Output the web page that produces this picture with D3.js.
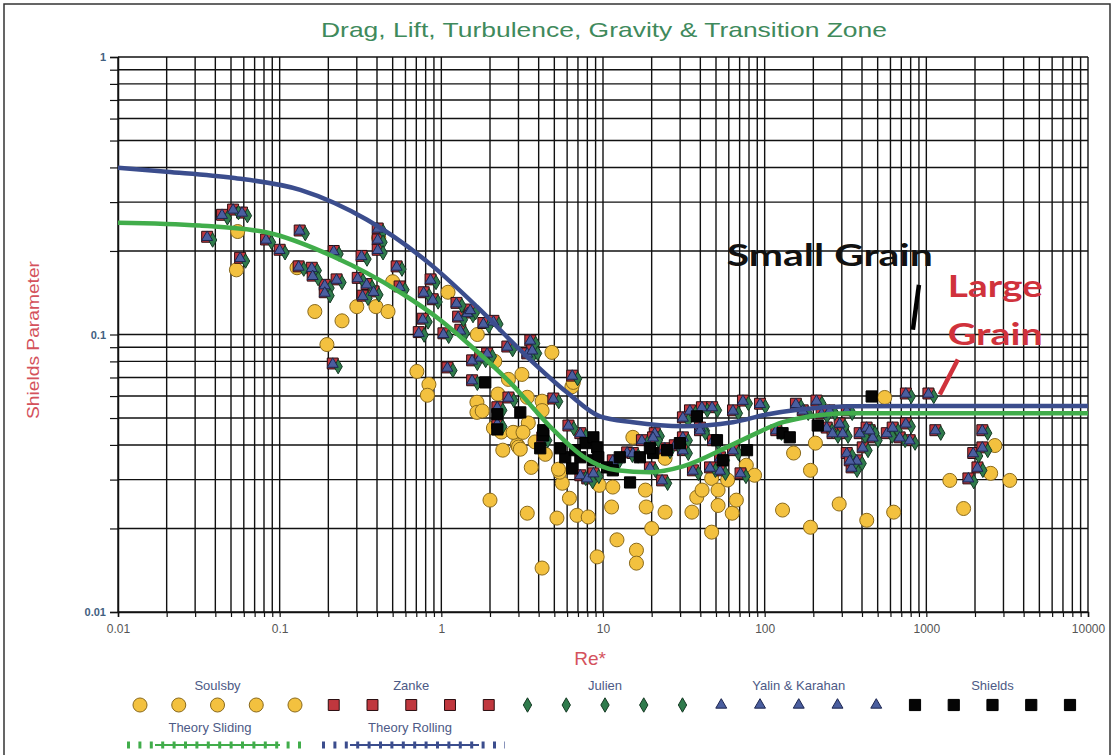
<!DOCTYPE html>
<html>
<head>
<meta charset="utf-8">
<script src="https://cdn.jsdelivr.net/npm/d3@7"></script>
<style>
  body { margin: 0; background: #fff; }
  svg { display: block; font-family: "Liberation Sans", Arial, sans-serif; }
</style>
</head>
<body>
<svg id="chart"></svg>
<script>
// axis ticks that get a label
const reTicks = [0.01, 0.1, 1, 10, 100, 1000, 10000];
const thetaTicks = [0.01, 0.1, 1];

// theory curves [Re*, shields]
const theorySliding = [[0.01, 0.253], [0.032, 0.247], [0.0835, 0.233], [0.214, 0.191], [0.555, 0.142], [0.98, 0.113],
  [1.44, 0.0936], [2.66, 0.0672], [4.69, 0.0467], [7.51, 0.0364], [12.2, 0.0324], [19.5, 0.0319], [31.2, 0.0335],
  [63.6, 0.0402], [130, 0.0483], [210, 0.0511], [336, 0.052], [1000, 0.052], [10000, 0.052]];
const theoryRolling = [[0.01, 0.399], [0.02, 0.386], [0.051, 0.367], [0.134, 0.332], [0.347, 0.259], [0.887, 0.176],
  [1.66, 0.126], [3.38, 0.0833], [5.98, 0.0619], [9.57, 0.0507], [15.3, 0.0483], [31.2, 0.0467], [63.6, 0.0483],
  [103, 0.0515], [165, 0.0537], [336, 0.0551], [1000, 0.0553], [10000, 0.0553]];

// Soulsby points [Re*, shields]
const soulsby = [[0.054,0.171],[0.055,0.235],[0.128,0.174],[0.165,0.121],[0.196,0.092],[0.243,0.112],[0.30,0.126],
  [0.394,0.126],[0.468,0.121],[0.41,0.223],[0.50,0.155],[1.1,0.142],[0.706,0.0736],[0.838,0.0661],[0.82,0.0604],
  [2.14,0.080],[3.15,0.0718],[4.83,0.0862],[1.66,0.057],[1.66,0.0524],[2.24,0.061],[2.6,0.0689],[3.4,0.0594],
  [4.2,0.0575],[4.2,0.0532],[3.45,0.048],[2.85,0.0442],[2.95,0.040],[6.42,0.0648],[2.1,0.046],[2.35,0.0445],
  [3.8,0.041],[2.0,0.0253],[2.4,0.0383],[3.0,0.0393],[3.6,0.0332],[4.2,0.0144],[3.4,0.0227],[5.19,0.0218],
  [5.6,0.0291],[6.2,0.0257],[6.9,0.0223],[8.1,0.0220],[9.5,0.0286],[9.2,0.0158],[11.3,0.0239],[12.2,0.0182],
  [16.1,0.0167],[16.1,0.0150],[15.3,0.0426],[18.3,0.0275],[18.5,0.0239],[20.0,0.020],[24.2,0.0229],[24.2,0.0358],
  [35.5,0.0229],[38,0.0259],[41,0.0275],[47,0.0194],[47,0.0303],[51.5,0.0242],[51.5,0.0275],[59,0.0299],
  [63,0.0227],[66.8,0.0253],[77,0.0338],[86.6,0.0311],[129,0.0233],[151,0.0374],[192,0.0202],[192,0.0324],
  [206,0.0406],[289,0.0245],[553,0.0593],[428,0.0214],[628,0.0229],[1397,0.0298],[1700,0.0236],[2654,0.0398],
  [2500,0.0316],[3282,0.0298],[5.4,0.0319],[1.79,0.053],[6.55,0.0672],[2.78,0.0444],[3.2,0.0444],[3.08,0.0386],
  [4.4,0.037],[5.3,0.0327],[11.5,0.0282],[1.67,0.10]];

// Zanke and Yalin & Karahan share the same Re* values
const clusterRe = [0.0356,0.044,0.0515,0.0585,0.0569,0.133,0.0824,0.100,0.131,0.158,0.160,0.190,0.225,0.190,0.216,
  0.321,0.304,0.345,0.381,0.326,0.404,0.404,0.404,0.529,0.552,0.778,0.858,0.767,0.884,1.24,1.45,1.31,1.82,2.10,
  0.725,1.03,1.09,1.55,1.92,2.56,3.55,3.40,1.55,0.213,1.51,1.74,1.27,3.65,4.93,6.45,2.22,2.60,2.22,4.21,6.11,
  7.24,7.99,14.1,17.4,20.9,24.1,27.8,23.2,7.24,8.72,11.5,15.3,20.4,19.5,31.2,31.2,34.5,40.9,47.3,39.8,47.9,53.0,
  36.0,53.0,63.7,73.4,63.7,93.6,118,156,172,209,291,322,252,322,31.2,70.9,225,242,263,304,345,371,387,427,466,
  404,569,619,684,747,789,747,1030,1137,2220,1950,2070,1820,2220,45.9,39.8,336,446];
const zankeTheta = [0.225,0.270,0.282,0.275,0.189,0.237,0.220,0.202,0.176,0.174,0.163,0.151,0.158,0.142,0.200,
  0.192,0.160,0.152,0.143,0.138,0.241,0.220,0.202,0.176,0.149,0.142,0.158,0.114,0.134,0.130,0.120,0.104,0.110,0.112,
  0.102,0.101,0.0761,0.0807,0.0855,0.0905,0.0952,0.0855,0.0684,0.0786,0.123,0.0827,0.116,0.0877,0.0588,0.0711,
  0.0547,0.0593,0.0478,0.0426,0.0470,0.0311,0.0303,0.0376,0.0416,0.0441,0.0389,0.0399,0.0298,0.0441,0.0316,0.0352,
  0.0374,0.0426,0.0332,0.0383,0.0426,0.0533,0.0547,0.0547,0.0462,0.0416,0.0361,0.0324,0.0324,0.0533,0.0578,0.0383,
  0.0563,0.0452,0.0563,0.0533,0.0578,0.0478,0.0374,0.0533,0.0533,0.0503,0.0316,0.0520,0.0462,0.0441,0.0441,0.0332,
  0.0352,0.0441,0.0462,0.0426,0.0392,0.0441,0.0462,0.0426,0.0478,0.0416,0.0613,0.0613,0.0452,0.0452,0.0374,0.0332,
  0.0303,0.0392,0.0332,0.0452,0.0352,0.0452];
const yalinTheta = [0.224,0.269,0.281,0.274,0.188,0.236,0.219,0.201,0.175,0.173,0.162,0.150,0.157,0.141,0.199,
  0.191,0.159,0.151,0.142,0.137,0.240,0.219,0.201,0.175,0.148,0.141,0.157,0.113,0.133,0.129,0.119,0.103,0.109,0.111,
  0.101,0.100,0.0757,0.0803,0.0851,0.0901,0.0948,0.0851,0.0681,0.0782,0.122,0.0823,0.115,0.0873,0.0585,0.0708,
  0.0545,0.0590,0.0476,0.0424,0.0468,0.0310,0.0302,0.0374,0.0414,0.0439,0.0387,0.0397,0.0297,0.0439,0.0315,0.0350,
  0.0372,0.0424,0.0330,0.0381,0.0424,0.0530,0.0545,0.0545,0.0460,0.0414,0.0359,0.0322,0.0322,0.0530,0.0575,0.0381,
  0.0560,0.0450,0.0560,0.0530,0.0575,0.0476,0.0372,0.0530,0.0530,0.0500,0.0315,0.0517,0.0460,0.0439,0.0439,0.0330,
  0.0350,0.0439,0.0460,0.0424,0.0390,0.0439,0.0460,0.0424,0.0476,0.0414,0.0610,0.0610,0.0450,0.0450,0.0372,0.0330,
  0.0302,0.0390,0.0330,0.0450,0.0350,0.0450];

// Julien diamonds sit a little to the right and below
const julienRe = [0.0385,0.0475,0.0556,0.0632,0.0615,0.144,0.089,0.108,0.141,0.171,0.173,0.205,0.243,0.205,0.233,
  0.347,0.328,0.373,0.411,0.352,0.436,0.436,0.436,0.571,0.596,0.840,0.927,0.828,0.955,1.34,1.57,1.41,1.97,2.27,
  0.783,1.11,1.18,1.67,2.07,2.76,3.83,3.67,1.67,0.230,1.63,1.88,1.37,3.94,5.32,6.97,2.40,2.81,2.40,4.55,6.60,
  7.82,8.63,15.2,18.8,22.6,26.0,30.0,25.1,7.82,9.42,12.4,16.5,22.0,21.1,33.7,33.7,37.3,44.2,51.1,43.0,51.7,57.2,
  38.9,57.2,68.8,79.3,68.8,101,127,168,186,226,314,348,272,348,33.7,76.6,243,261,284,328,373,401,418,461,503,
  436,615,669,739,807,852,807,1112,1228,2398,2106,2236,1966,2398,49.6,43.0,363,482];
const julienTheta = [0.219,0.263,0.275,0.268,0.184,0.231,0.215,0.197,0.172,0.170,0.159,0.147,0.154,0.138,0.195,
  0.187,0.156,0.148,0.139,0.135,0.235,0.215,0.197,0.172,0.145,0.138,0.154,0.111,0.131,0.127,0.117,0.101,0.107,0.109,
  0.0995,0.0985,0.0742,0.0787,0.0834,0.0882,0.0928,0.0834,0.0667,0.0766,0.120,0.0806,0.113,0.0855,0.0573,0.0693,
  0.0533,0.0578,0.0466,0.0415,0.0458,0.0303,0.0295,0.0367,0.0406,0.0430,0.0379,0.0389,0.0291,0.0430,0.0308,0.0343,
  0.0365,0.0415,0.0324,0.0373,0.0415,0.0520,0.0533,0.0533,0.0450,0.0406,0.0352,0.0316,0.0316,0.0520,0.0564,0.0373,
  0.0549,0.0441,0.0549,0.0520,0.0564,0.0466,0.0365,0.0520,0.0520,0.0490,0.0308,0.0507,0.0450,0.0430,0.0430,0.0324,
  0.0343,0.0430,0.0450,0.0415,0.0382,0.0430,0.0450,0.0415,0.0466,0.0406,0.0598,0.0598,0.0441,0.0441,0.0365,0.0324,
  0.0295,0.0382,0.0324,0.0441,0.0343,0.0441];

// Shields points [Re*, shields]
const shields = [[1.87,0.0672],[2.22,0.0516],[3.08,0.0524],[2.22,0.0455],[4.09,0.0389],[4.27,0.0433],[5.84,0.0361],
  [6.45,0.0329],[7.24,0.0361],[7.78,0.0406],[8.72,0.0426],[9.2,0.0392],[8.72,0.0352],[10.6,0.0332],[11.5,0.0324],
  [14.7,0.0293],[16.9,0.0361],[20.4,0.0374],[19.5,0.0389],[24.9,0.0383],[29.9,0.0406],[38.1,0.0507],[50.7,0.0416],
  [55.2,0.0352],[77.8,0.0383],[129,0.0441],[143,0.0426],[213,0.047],[459,0.0598],[9.35,0.0361],[12.7,0.0361],
  [6.7,0.0383],[5.45,0.0389],[4.27,0.0452]];

const seriesNames = ["Soulsby", "Zanke", "Julien", "Yalin & Karahan", "Shields"];
const lineNames = ["Theory Sliding", "Theory Rolling"];

const w = 1114, h = 755;
const svg = d3.select("#chart").attr("width", w).attr("height", h);

// outer frame of the picture
svg.append("rect").attr("x", 4).attr("y", 4).attr("width", 1106).attr("height", 760)
  .attr("fill", "none").attr("stroke", "#333").attr("stroke-width", 1.5);

const xScale = d3.scaleLog().domain([0.01, 10000]).range([118, 1088]);
const yScale = d3.scaleLog().domain([0.01, 1]).range([612, 57]);

const isMajor = d => Math.abs(Math.log10(d) - Math.round(Math.log10(d))) < 1e-9;

// grid
const grid = svg.append("g").attr("stroke", "#111").attr("stroke-width", 1.4);
grid.selectAll(".gx").data(xScale.ticks()).join("line")
  .attr("x1", d => xScale(d)).attr("x2", d => xScale(d))
  .attr("y1", yScale(1)).attr("y2", yScale(0.01));
grid.selectAll(".gy").data(yScale.ticks()).join("line")
  .attr("y1", d => yScale(d)).attr("y2", d => yScale(d))
  .attr("x1", xScale(0.01)).attr("x2", xScale(10000));

// axes
const xAxis = svg.append("g")
  .attr("transform", `translate(0,${yScale(0.01)})`)
  .call(d3.axisBottom(xScale).tickValues(xScale.ticks()).tickSize(5)
    .tickFormat(d => reTicks.some(t => Math.abs(t - d) < 1e-9) ? d3.format("~g")(d) : ""));
xAxis.select(".domain").attr("stroke", "#111").attr("stroke-width", 1.5);
xAxis.selectAll(".tick line").attr("stroke", "#111").attr("stroke-width", 1.2);
xAxis.selectAll("text").attr("fill", "#555").attr("font-size", 12).attr("dy", "1.05em")
  .text(d => isMajor(d) ? (d < 1 ? String(d) : d3.format("d")(d)) : "");

const yAxis = svg.append("g")
  .attr("transform", `translate(${xScale(0.01)},0)`)
  .call(d3.axisLeft(yScale).tickValues(yScale.ticks()).tickSize(8)
    .tickFormat(d => thetaTicks.some(t => Math.abs(t - d) < 1e-9) ? String(d) : ""));
yAxis.select(".domain").attr("stroke", "#111").attr("stroke-width", 1.5);
yAxis.selectAll(".tick line").attr("stroke", "#111").attr("stroke-width", 1.2);
yAxis.selectAll("text").attr("fill", "#42607f").attr("font-size", 11).attr("font-weight", "bold").attr("x", -12);

// title and axis titles
svg.append("text").attr("x", 604).attr("y", 37).attr("text-anchor", "middle")
  .attr("font-size", 21).attr("fill", "#3f8a5c")
  .attr("textLength", 566).attr("lengthAdjust", "spacingAndGlyphs")
  .text("Drag, Lift, Turbulence, Gravity & Transition Zone");
svg.append("text").attr("transform", "translate(39,340) rotate(-90)").attr("text-anchor", "middle")
  .attr("font-size", 16).attr("fill", "#d4525c")
  .attr("textLength", 158).attr("lengthAdjust", "spacingAndGlyphs")
  .text("Shields Parameter");
svg.append("text").attr("x", 590).attr("y", 665).attr("text-anchor", "middle")
  .attr("font-size", 19).attr("fill", "#d4525c").text("Re*");

// marker styles per series
const styles = {
  "Soulsby": { type: d3.symbolCircle, size: 155, fill: "#f3c13f", stroke: "#8a6a1c" },
  "Zanke": { type: d3.symbolSquare, size: 120, fill: "#c0373e", stroke: "#2a0d10" },
  "Julien": { type: d3.symbolDiamond, size: 60, fill: "#2f7b4c", stroke: "#163a24" },
  "Yalin & Karahan": { type: d3.symbolTriangle, size: 52, fill: "#4a5e9f", stroke: "#1c2550" },
  "Shields": { type: d3.symbolSquare, size: 125, fill: "#050505", stroke: "#000" }
};

const pointSets = [
  { name: "Soulsby", pts: soulsby },
  { name: "Zanke", pts: clusterRe.map((r, i) => [r, zankeTheta[i]]) },
  { name: "Julien", pts: julienRe.map((r, i) => [r, julienTheta[i]]) },
  { name: "Yalin & Karahan", pts: clusterRe.map((r, i) => [r, yalinTheta[i]]) },
  { name: "Shields", pts: shields }
];

const marks = svg.append("g");
pointSets.forEach(set => {
  const st = styles[set.name];
  marks.append("g").selectAll("path").data(set.pts).join("path")
    .attr("transform", d => `translate(${xScale(d[0])},${yScale(d[1])})`)
    .attr("d", d3.symbol().type(st.type).size(st.size))
    .attr("fill", st.fill).attr("stroke", st.stroke).attr("stroke-width", 1);
});

// theory lines on top
const line = d3.line().x(d => xScale(d[0])).y(d => yScale(d[1])).curve(d3.curveMonotoneX);
svg.append("path").datum(theoryRolling).attr("d", line)
  .attr("fill", "none").attr("stroke", "#3b4d8d").attr("stroke-width", 4.5);
svg.append("path").datum(theorySliding).attr("d", line)
  .attr("fill", "none").attr("stroke", "#41ad4b").attr("stroke-width", 4.5);

// annotations
svg.append("text").attr("x", xScale(58.3)).attr("y", yScale(0.176))
  .attr("font-family", "Lato, 'Open Sans', sans-serif").attr("font-weight", "bold").attr("font-size", 30)
  .attr("fill", "#111").attr("textLength", 206).attr("lengthAdjust", "spacingAndGlyphs").text("Small Grain");
svg.append("line").attr("x1", xScale(900)).attr("y1", yScale(0.151)).attr("x2", xScale(826)).attr("y2", yScale(0.104))
  .attr("stroke", "#000").attr("stroke-width", 4.5);
svg.append("text").attr("x", xScale(1358)).attr("y", yScale(0.136))
  .attr("font-family", "Lato, 'Open Sans', sans-serif").attr("font-weight", "bold").attr("font-size", 30)
  .attr("fill", "#d0323c").attr("textLength", 95).attr("lengthAdjust", "spacingAndGlyphs").text("Large");
svg.append("text").attr("x", xScale(1358)).attr("y", yScale(0.0913))
  .attr("font-family", "Lato, 'Open Sans', sans-serif").attr("font-weight", "bold").attr("font-size", 30)
  .attr("fill", "#d0323c").attr("textLength", 95).attr("lengthAdjust", "spacingAndGlyphs").text("Grain");
svg.append("line").attr("x1", xScale(1567)).attr("y1", yScale(0.0813)).attr("x2", xScale(1211)).attr("y2", yScale(0.0608))
  .attr("stroke", "#d0323c").attr("stroke-width", 4.5);

// legend: 5 markers per series
const legend = svg.append("g").attr("font-size", 13).attr("fill", "#4d5a86");
const step = 38.75, lx0 = 140;
seriesNames.forEach((name, si) => {
  const st = styles[name];
  legend.append("text").attr("x", lx0 + (si * 5 + 2) * step).attr("y", 690)
    .attr("text-anchor", "middle").text(name);
  legend.append("g").selectAll("path").data(d3.range(5)).join("path")
    .attr("transform", k => `translate(${lx0 + (si * 5 + k) * step},705)`)
    .attr("d", d3.symbol().type(st.type).size(st.size))
    .attr("fill", st.fill).attr("stroke", st.stroke).attr("stroke-width", 1);
});

const lineStyles = [
  { name: lineNames[0], color: "#41ad4b", x0: 127, x1: 306, cx: 210 },
  { name: lineNames[1], color: "#3b4d8d", x0: 322, x1: 505, cx: 410 }
];
lineStyles.forEach(ls => {
  legend.append("text").attr("x", ls.cx).attr("y", 732).attr("text-anchor", "middle").text(ls.name);
  legend.append("line").attr("x1", ls.x0).attr("x2", ls.x1).attr("y1", 745).attr("y2", 745)
    .attr("stroke", ls.color).attr("stroke-width", 7).attr("stroke-dasharray", "3,8.4");
  legend.append("line").attr("x1", ls.x0 + 28).attr("x2", ls.x1 - 26).attr("y1", 745).attr("y2", 745)
    .attr("stroke", ls.color).attr("stroke-width", 2);
});
</script>
</body>
</html>
